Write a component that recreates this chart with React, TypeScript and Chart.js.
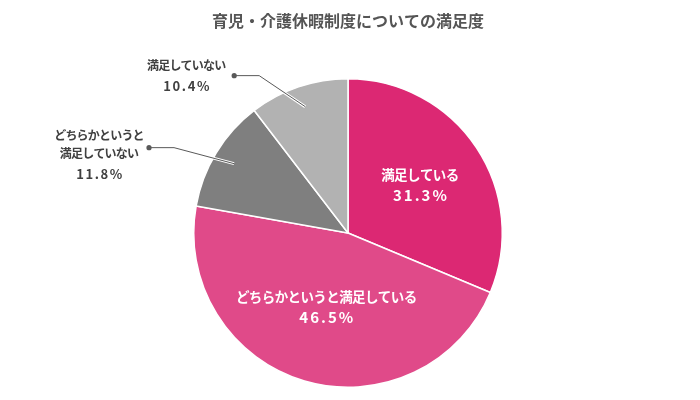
import React, { useEffect, useRef } from "react";
import { Chart, registerables } from "chart.js";
Chart.register(...registerables);

const TITLE = "育児・介護休暇制度についての満足度";
const categories = [
  "満足している",
  "どちらかというと満足している",
  "どちらかというと満足していない",
  "満足していない",
];
const values = [31.3, 46.5, 11.8, 10.4];
const colors = ["#dc2873", "#e04a89", "#7f7f7f", "#b2b2b2"];
const labelLines = [
  ["満足している"],
  ["どちらかというと満足している"],
  ["どちらかというと", "満足していない"],
  ["満足していない"],
];
const inside = [true, true, false, false];

const FONT = "'Noto Sans CJK JP', 'Noto Sans', sans-serif";

const innerRadiusFrac = [0.56, 0.5, 0, 0];
const outerCfg: Record<number, { elbowDx: number; elbowDy: number; dotDx: number; textDx: number; textDy: number }> = {
  2: { elbowDx: -60, elbowDy: -16, dotDx: -25, textDx: -50, textDy: -12 },
  3: { elbowDx: -46, elbowDy: -31, dotDx: -25, textDx: -48, textDy: -10 },
};

const labelPlugin = {
  id: "sliceLabels",
  afterDatasetsDraw(chart: any) {
    const ctx = chart.ctx as any;
    const meta = chart.getDatasetMeta(0);
    meta.data.forEach((arc: any, i: number) => {
      const { x, y, startAngle, endAngle, outerRadius } = arc.getProps(
        ["x", "y", "startAngle", "endAngle", "outerRadius"],
        true
      );
      const mid = (startAngle + endAngle) / 2;
      const pct = values[i].toFixed(1) + "%";
      ctx.save();
      ctx.textAlign = "center";
      ctx.textBaseline = "middle";
      if (inside[i]) {
        const r = outerRadius * innerRadiusFrac[i];
        const cx = x + Math.cos(mid) * r;
        const cy = y + Math.sin(mid) * r;
        ctx.fillStyle = "#ffffff";
        const lines = labelLines[i];
        const lh = 21;
        const startY = cy - (lines.length * lh) / 2;
        ctx.font = `bold 13.5px ${FONT}`;
        ctx.letterSpacing = "-0.6px";
        lines.forEach((t, k) => ctx.fillText(t, cx, startY + k * lh));
        ctx.font = `bold 15px ${FONT}`;
        ctx.letterSpacing = "2px";
        ctx.fillText(pct, cx + 1, startY + lines.length * lh);
      } else {
        const cfg = outerCfg[i];
        const r = outerRadius * 0.865;
        const ex = x + Math.cos(mid) * r;
        const ey = y + Math.sin(mid) * r;
        const bx = ex + cfg.elbowDx;
        const by = ey + cfg.elbowDy;
        const dx = bx + cfg.dotDx;
        const dy = by;
        ctx.lineJoin = "miter";
        ctx.beginPath();
        ctx.moveTo(dx, dy);
        ctx.lineTo(bx, by);
        ctx.lineTo(ex, ey);
        ctx.strokeStyle = "#ffffff";
        ctx.lineWidth = 3;
        ctx.stroke();
        ctx.strokeStyle = "#595959";
        ctx.lineWidth = 1;
        ctx.stroke();
        ctx.beginPath();
        ctx.arc(dx, dy, 2.6, 0, Math.PI * 2);
        ctx.fillStyle = "#595959";
        ctx.fill();
        ctx.fillStyle = "#404040";
        const tx = dx + cfg.textDx;
        let ty = dy + cfg.textDy;
        ctx.font = `bold 12px ${FONT}`;
        ctx.letterSpacing = "-0.8px";
        labelLines[i].forEach((t) => {
          ctx.fillText(t, tx, ty);
          ty += 18;
        });
        ty += 2;
        ctx.font = `bold 13px ${FONT}`;
        ctx.letterSpacing = "1.6px";
        ctx.fillText(pct, tx + 1, ty);
      }
      ctx.restore();
    });
  },
};

export default function App() {
  const ref = useRef<HTMLCanvasElement | null>(null);
  useEffect(() => {
    if (!ref.current) return;
    const chart = new Chart(ref.current, {
      type: "pie",
      data: {
        labels: categories,
        datasets: [
          {
            data: values,
            backgroundColor: colors,
            borderColor: "#ffffff",
            borderWidth: 1.5,
          },
        ],
      },
      options: {
        responsive: false,
        animation: false,
        layout: { padding: { top: 0, bottom: 12, left: 0, right: 4 } },
        plugins: {
          legend: { display: false },
          tooltip: { enabled: false },
          title: {
            display: true,
            text: TITLE,
            color: "#555555",
            font: { family: FONT, size: 16, weight: "bold" },
            padding: { top: 11, bottom: 47.8 },
          },
        },
      },
      plugins: [labelPlugin],
    });
    return () => chart.destroy();
  }, []);
  return (
    <div style={{ position: "fixed", left: 0, top: 0, width: 700, height: 400, background: "#fff" }}>
      <canvas ref={ref} width={700} height={400} />
    </div>
  );
}
